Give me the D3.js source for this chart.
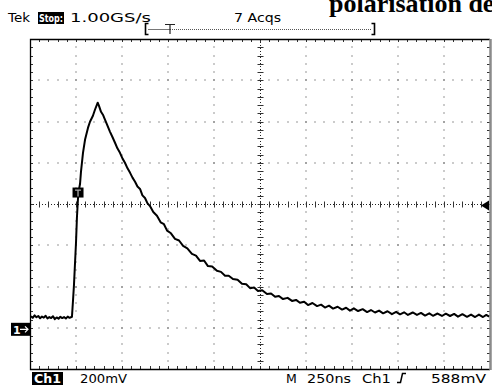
<!DOCTYPE html>
<html>
<head>
<meta charset="utf-8">
<script src="https://cdnjs.cloudflare.com/ajax/libs/d3/7.8.5/d3.min.js"></script>
<style>
  body { margin: 0; background: #fff; }
  svg { display: block; }
  text { font-family: "DejaVu Sans", sans-serif; }
</style>
</head>
<body>
<svg id="scope" width="492" height="386"></svg>
<script>
// acquisition: time in ns from left edge, volts in mV above ground
const timeNs = [5, 15, 25, 35, 45, 55, 65, 75, 85, 95, 105, 115, 125, 135, 145, 155, 165, 175, 185, 195, 205, 215, 225,
  228, 234, 239, 245, 250, 255, 261, 266, 272, 277, 288, 299, 315, 326, 342, 353, 368,
  375, 386, 398, 408, 421, 435, 448, 462, 475, 489, 503, 516, 530, 544, 557, 571, 584,
  598, 611, 625, 638, 652, 670, 690, 710, 728, 745, 766, 788, 810, 832, 855, 880, 902, 924, 946, 967, 990,
  1016, 1038, 1060, 1080, 1103, 1128, 1152, 1175, 1196, 1218, 1239, 1262, 1288, 1310, 1332, 1353, 1375, 1400,
  1424, 1446, 1467, 1490, 1511, 1535, 1560, 1582, 1603, 1625, 1647, 1672, 1696, 1718, 1739, 1760, 1783, 1808,
  1832, 1853, 1875, 1897, 1919, 1943, 1967, 1990, 2011, 2033, 2054, 2080, 2103, 2125, 2147, 2170, 2190, 2215,
  2239, 2260, 2283, 2305, 2326, 2350, 2375, 2397, 2419, 2440, 2462, 2480, 2495];
const voltMv = [66, 58, 70, 61, 67, 56, 64, 59, 68, 55, 62, 57, 66, 52, 60, 54, 63, 57, 62, 55, 64, 58, 62,
  63, 146, 218, 330, 422, 543, 640, 679, 708, 766, 858, 921, 979, 1009, 1038, 1067, 1101,
  1086, 1057, 1040, 1018, 990, 960, 935, 907, 880, 858, 830, 810, 783, 761, 738, 718, 695,
  683, 652, 639, 614, 600, 571, 553, 521, 512, 481, 468, 441, 433, 407, 395, 368, 360, 334, 336, 309, 307,
  286, 281, 262, 262, 246, 243, 223, 221, 202, 205, 188, 192, 174, 176, 160, 164, 149, 155,
  140, 145, 131, 136, 120, 130, 115, 122, 108, 117, 103, 112, 98, 107, 93, 104, 91, 100,
  86, 96, 84, 93, 80, 90, 76, 87, 75, 85, 72, 84, 72, 82, 69, 80, 68, 79,
  67, 78, 67, 77, 64, 76, 63, 74, 62, 74, 62, 72, 64];

const headerText = ["Tek", "Stop:", "1.00GS/s", "7 Acqs"];
const footerText = ["Ch1", "200mV", "M", "250ns", "Ch1", "588mV"];
const titleText = "polarisation de";

const divsX = 10, divsY = 8, timePerDiv = 250, voltPerDiv = 200;
const groundDiv = -3.05, trigLevel = 588, trigTime = 261;

const svg = d3.select("#scope");
const gLeft = 30, gRight = 490, gTop = 39, gBottom = 369;

// graticule in divisions, trace in ns / mV
const gx = d3.scaleLinear().domain([0, divsX]).range([gLeft, gRight]);
const gy = d3.scaleLinear().domain([-divsY / 2, divsY / 2]).range([gBottom, gTop]);
const x = d3.scaleLinear().domain([0, divsX * timePerDiv]).range([gLeft, gRight]);
const y = d3.scaleLinear()
  .domain([(-divsY / 2 - groundDiv) * voltPerDiv, (divsY / 2 - groundDiv) * voltPerDiv])
  .range([gBottom, gTop]);

svg.append("rect").attr("width", 492).attr("height", 386).attr("fill", "#fff");

const minorX = d3.range(0, divsX * 5 + 1).map(d => d / 5);
const minorY = d3.range(-divsY * 2.5, divsY * 2.5 + 1).map(d => d / 5);
const grid = svg.append("g").attr("fill", "#333");

// dotted grid lines
d3.range(1, divsX).filter(k => k !== divsX / 2).forEach(k => {
  grid.selectAll(null).data(minorY.slice(1, -1)).enter().append("rect")
    .attr("x", Math.round(gx(k)) - 0.5).attr("y", d => Math.round(gy(d)) - 0.5)
    .attr("width", 1).attr("height", 1);
});
d3.range(-divsY / 2 + 1, divsY / 2).filter(k => k !== 0).forEach(k => {
  grid.selectAll(null).data(minorX.slice(1, -1)).enter().append("rect")
    .attr("x", d => Math.round(gx(d)) - 0.5).attr("y", Math.round(gy(k)) - 0.5)
    .attr("width", 1).attr("height", 1);
});

// center axes with cross ticks
const cx = Math.round(gx(divsX / 2)) + 0.5, cy = Math.round(gy(0)) + 0.5;
svg.append("line").attr("x1", gLeft).attr("x2", gRight).attr("y1", cy).attr("y2", cy)
  .attr("stroke", "#222").attr("stroke-dasharray", "1,2");
svg.append("line").attr("x1", cx).attr("x2", cx).attr("y1", gTop).attr("y2", gBottom)
  .attr("stroke", "#222").attr("stroke-dasharray", "1,2");
const ticks = svg.append("g").attr("stroke", "#333").attr("stroke-width", 1);
ticks.selectAll(null).data(minorX).enter().append("line")
  .attr("x1", d => Math.round(gx(d)) + 0.5).attr("x2", d => Math.round(gx(d)) + 0.5)
  .attr("y1", cy - 3).attr("y2", cy + 3);
ticks.selectAll(null).data(minorY).enter().append("line")
  .attr("y1", d => Math.round(gy(d)) + 0.5).attr("y2", d => Math.round(gy(d)) + 0.5)
  .attr("x1", cx - 3).attr("x2", cx + 3);

// edge ticks
ticks.selectAll(null).data(minorX).enter().append("line")
  .attr("x1", d => Math.round(gx(d)) + 0.5).attr("x2", d => Math.round(gx(d)) + 0.5)
  .attr("y1", gTop).attr("y2", gTop + 3);
ticks.selectAll(null).data(minorX).enter().append("line")
  .attr("x1", d => Math.round(gx(d)) + 0.5).attr("x2", d => Math.round(gx(d)) + 0.5)
  .attr("y1", gBottom - 3).attr("y2", gBottom);
ticks.selectAll(null).data(minorY).enter().append("line")
  .attr("y1", d => Math.round(gy(d)) + 0.5).attr("y2", d => Math.round(gy(d)) + 0.5)
  .attr("x1", gLeft).attr("x2", gLeft + 3);
ticks.selectAll(null).data(minorY).enter().append("line")
  .attr("y1", d => Math.round(gy(d)) + 0.5).attr("y2", d => Math.round(gy(d)) + 0.5)
  .attr("x1", gRight - 3).attr("x2", gRight);

// frame
svg.append("path")
  .attr("d", `M${gRight},${gTop + 0.5}H${gLeft + 0.5}V${gBottom + 0.5}H${gRight}`)
  .attr("fill", "none").attr("stroke", "#000").attr("stroke-width", 1.3);
svg.append("line").attr("x1", gRight + 0.5).attr("x2", gRight + 0.5).attr("y1", gTop).attr("y2", gBottom + 1)
  .attr("stroke", "#8a8a8a").attr("stroke-width", 2.5);

// trace
const line = d3.line().x(d => x(d[0])).y(d => y(d[1]));
svg.append("path").datum(d3.zip(timeNs, voltMv))
  .attr("d", line).attr("fill", "none").attr("stroke", "#000")
  .attr("stroke-width", 2).attr("stroke-linejoin", "round");

// ground marker "1->"
const gY = y(0);
svg.append("rect").attr("x", 11).attr("y", gY - 7).attr("width", 19).attr("height", 13).attr("fill", "#000");
svg.append("text").attr("x", 13).attr("y", gY + 4.5).attr("fill", "#fff")
  .attr("font-size", 11).attr("font-weight", "bold").text("1");
svg.append("path").attr("d", `M20,${gY - 0.5}H28M25,${gY - 3.5}L28,${gY - 0.5}L25,${gY + 2.5}`)
  .attr("fill", "none").attr("stroke", "#fff").attr("stroke-width", 1.2);

// trigger marker on trace
const tX = x(trigTime), tY = y(trigLevel) - 16;
svg.append("rect").attr("x", tX - 5.5).attr("y", tY - 5).attr("width", 11).attr("height", 10).attr("fill", "#000");
svg.append("path").attr("d", `M${tX - 3},${tY - 2.5}H${tX + 3}M${tX},${tY - 2.5}V${tY + 4}`)
  .attr("stroke", "#aaa").attr("stroke-width", 1.3);

// trigger level arrow on right edge
const lY = y(trigLevel) - 3;
svg.append("path").attr("d", `M${gRight - 9},${lY}L${gRight - 1},${lY - 5}V${lY + 5}Z`).attr("fill", "#000");

// header
svg.append("text").attr("x", 8).attr("y", 22).attr("font-size", 12.5)
  .attr("textLength", 22).attr("lengthAdjust", "spacingAndGlyphs").text(headerText[0]);
svg.append("rect").attr("x", 38).attr("y", 12).attr("width", 26).attr("height", 12).attr("fill", "#000");
svg.append("text").attr("x", 39).attr("y", 22).attr("font-size", 11).attr("font-weight", "bold").attr("fill", "#fff")
  .attr("textLength", 24).attr("lengthAdjust", "spacingAndGlyphs").text(headerText[1]);
svg.append("text").attr("x", 70).attr("y", 22).attr("font-size", 12.5)
  .attr("textLength", 81).attr("lengthAdjust", "spacingAndGlyphs").text(headerText[2]);
svg.append("text").attr("x", 234).attr("y", 22).attr("font-size", 12.5)
  .attr("textLength", 47).attr("lengthAdjust", "spacingAndGlyphs").text(headerText[3]);

// record bracket
svg.append("path").attr("d", "M148.5,23.5H145.5V34.5H148.5M371.5,23.5H374.5V34.5H371.5")
  .attr("fill", "none").attr("stroke", "#000").attr("stroke-width", 1.6);
svg.append("line").attr("x1", 148).attr("x2", 170).attr("y1", 29.5).attr("y2", 29.5).attr("stroke", "#777");
svg.append("line").attr("x1", 170).attr("x2", 372).attr("y1", 29.5).attr("y2", 29.5)
  .attr("stroke", "#555").attr("stroke-dasharray", "1,1");
svg.append("path").attr("d", "M165,24.5H175M170,24.5V34").attr("stroke", "#222").attr("stroke-width", 1.2);

// cut-off page title behind the screenshot
svg.append("text").attr("x", 329).attr("y", 12)
  .style("font-family", "'Liberation Serif', 'DejaVu Serif', serif")
  .attr("font-size", 26).attr("font-weight", "bold").text(titleText);

// footer
const fy = 383;
svg.append("rect").attr("x", 32).attr("y", 372).attr("width", 31).attr("height", 13).attr("fill", "#000");
svg.append("text").attr("x", 34).attr("y", fy).attr("font-size", 12.5).attr("font-weight", "bold").attr("fill", "#fff")
  .attr("textLength", 27).attr("lengthAdjust", "spacingAndGlyphs").text(footerText[0]);
svg.append("text").attr("x", 80).attr("y", fy).attr("font-size", 12.5)
  .attr("textLength", 47).attr("lengthAdjust", "spacingAndGlyphs").text(footerText[1]);
svg.append("text").attr("x", 286).attr("y", fy).attr("font-size", 12.5).text(footerText[2]);
svg.append("text").attr("x", 307).attr("y", fy).attr("font-size", 12.5)
  .attr("textLength", 44).attr("lengthAdjust", "spacingAndGlyphs").text(footerText[3]);
svg.append("text").attr("x", 362).attr("y", fy).attr("font-size", 12.5)
  .attr("textLength", 29).attr("lengthAdjust", "spacingAndGlyphs").text(footerText[4]);
svg.append("path").attr("d", "M397,382.5H400.5L402.5,373.5H406")
  .attr("fill", "none").attr("stroke", "#000").attr("stroke-width", 1.5);
svg.append("text").attr("x", 431).attr("y", fy).attr("font-size", 12.5)
  .attr("textLength", 55).attr("lengthAdjust", "spacingAndGlyphs").text(footerText[5]);
</script>
</body>
</html>
